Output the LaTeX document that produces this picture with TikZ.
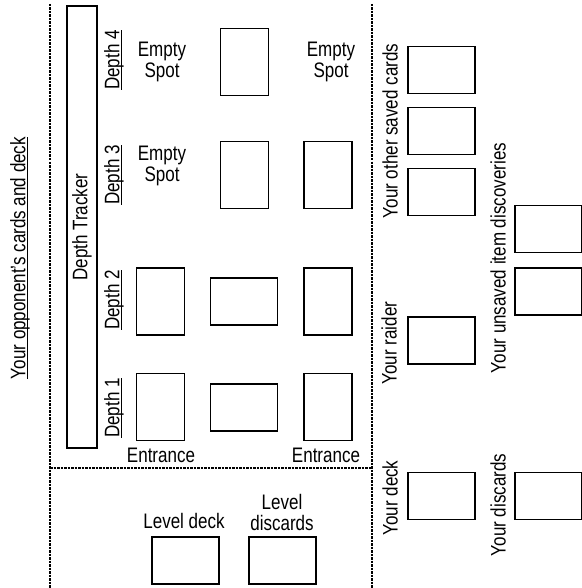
\documentclass[tikz,border=0pt]{standalone}
\usepackage{fontspec}
\setmainfont{Liberation Sans}[FakeStretch=0.81]
\newcommand\ulined[1]{\setbox0\hbox{#1}\rlap{\rule[-2.5pt]{\wd0}{1.3pt}}\box0}
\begin{document}
\begin{tikzpicture}[x=1pt, y=-1pt,
    every node/.style={font=\fontsize{21}{21}\selectfont, inner sep=0pt, align=center},
    card/.style={draw, line width=1.1pt, minimum width=48, minimum height=67},
    flatcard/.style={draw, line width=1.1pt, minimum width=67, minimum height=47},
    side/.style={rotate=90},
    divider/.style={line width=1.4pt, dash pattern=on 2.5pt off 1pt}]
                \useasboundingbox (0,0) rectangle (581,588);
                % zone borders
                \draw[divider] (50,4) -- (50,588);
                \draw[divider] (372,4) -- (372,588);
                \draw[divider] (50,468) -- (372,468);

                \node[side] (opp) at (20,258) {\ulined{Your opponent's cards and deck}};
                \node[side, draw, line width=1.1pt, minimum width=442, minimum height=30] (T) at (82,227) {Depth Tracker};

                \node[side] (D4) at (114,60) {\ulined{Depth 4}};
                \node[side] (D3) at (114,175) {\ulined{Depth 3}};
                \node[side] (D2) at (114,300) {\ulined{Depth 2}};
                \node[side] (D1) at (114,408) {\ulined{Depth 1}};

                \node (E4a) at (162,62) {Empty\\Spot};
                \node[card] (C4b) at (244.5,62) {};
                \node (E4c) at (331,62) {Empty\\Spot};

                \node (E3a) at (162,166) {Empty\\Spot};
                \node[card] (C3b) at (244.5,175) {};
                \node[card] (C3c) at (328,175) {};

                \node[card] (C2a) at (160.5,301.5) {};
                \node[flatcard] (C2b) at (244,301.5) {};
                \node[card] (C2c) at (328,301.5) {};

                \node[card] (C1a) at (160.5,407) {};
                \node[flatcard] (C1b) at (244,407.5) {};
                \node[card] (C1c) at (328,407) {};

                \node (In1) at (161,455) {Entrance};
                \node (In2) at (326,455) {Entrance};

                \node (LD) at (184,521) {Level deck};
                \node (LX) at (282,512) {Level\\discards};
                \node[flatcard] (LDc) at (185.5,560.5) {};
                \node[flatcard] (LXc) at (282.5,560.5) {};

                % player side
                \node[side] (sv) at (390,131) {Your other saved cards};
                \node[flatcard] (S1) at (441.5,70) {};
                \node[flatcard] (S2) at (441.5,131) {};
                \node[flatcard] (S3) at (441.5,192) {};
                \node[side] (rd) at (389,343) {Your raider};
                \node[flatcard] (R) at (441.5,340.5) {};
                \node[side] (dk) at (390,498) {Your deck};
                \node[flatcard] (Dk) at (441.5,496) {};

                \node[side] (un) at (498,258) {Your unsaved item discoveries};
                \node[flatcard] (U1) at (548.5,229) {};
                \node[flatcard] (U2) at (548.5,291.5) {};
                \node[side] (ds) at (498,505) {Your discards};
                \node[flatcard] (Ds) at (548.5,496) {};
            \end{tikzpicture}
\end{document}
